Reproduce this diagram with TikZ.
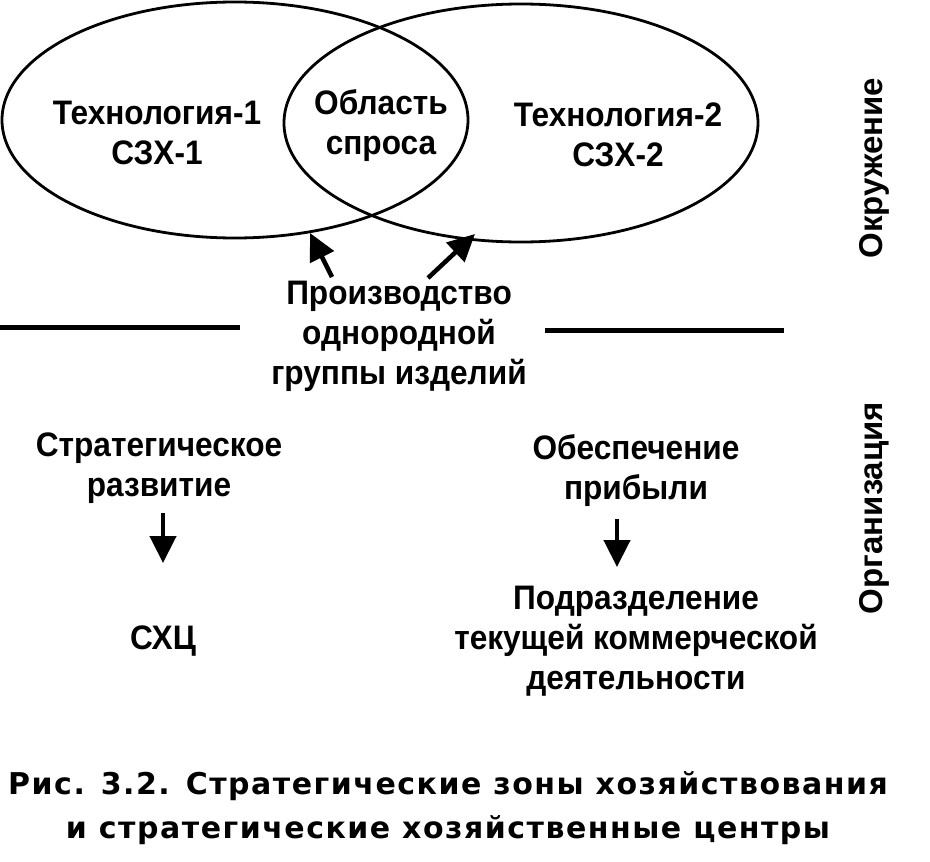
\documentclass[tikz,border=0pt]{standalone}
\usepackage{fontspec}
\setmainfont{Liberation Sans Bold}[FakeStretch=0.93]
\newfontfamily\sidefont{Liberation Sans Bold}
\newfontfamily\capfont{DejaVu Sans Bold}[LetterSpace=5]
\usetikzlibrary{arrows.meta}
\begin{document}
\begin{tikzpicture}[x=1pt,y=-1pt,
    lbl/.style={font=\fontsize{34}{40}\selectfont,align=center,inner sep=0pt,anchor=north},
    side/.style={font=\sidefont\fontsize{33}{40}\selectfont,inner sep=0pt,anchor=base,rotate=90},
    capt/.style={font=\capfont\fontsize{30}{44}\selectfont,align=center,inner sep=0pt,anchor=north},
    arr/.style={line width=4.5pt,-{Triangle[length=27pt,width=26pt]}},
    oval/.style={line width=2.8pt},
    bar/.style={line width=5pt}]
    \useasboundingbox (0,0) rectangle (930,862);
    \draw[oval] (235,120) ellipse [x radius=233, y radius=118];
    \draw[oval] (521,123) ellipse [x radius=237, y radius=119];
    \node[lbl] (tech1) at (157,101) {Технология-1\\СЗХ-1};
    \node[lbl] (demand) at (381,89) {Область\\спроса};
    \node[lbl] (tech2) at (618,103) {Технология-2\\СЗХ-2};
    \node[side] (env) at (882,168) {Окружение};
    \node[lbl] (prod) at (399,281) {Производство\\однородной\\группы изделий};
    \coordinate (tipL) at (310,233);
    \coordinate (tipR) at (475,234);
    \draw[arr] ([xshift=-67pt,yshift=4pt]prod.north) -- (tipL);
    \draw[arr] ([xshift=29pt,yshift=3pt]prod.north) -- (tipR);
    \draw[bar] (0,327) -- (240,327);
    \draw[bar] (545,330) -- (784,330);
    \node[side] (org) at (882,508) {Организация};
    \node[lbl] (strat) at (159,433) {Стратегическое\\развитие};
    \node[lbl] (shc) at (163,626) {СХЦ};
    \node[lbl] (profit) at (636,434) {Обеспечение\\прибыли};
    \node[lbl] (unit) at (636,586) {Подразделение\\текущей коммерческой\\деятельности};
    \draw[arr] ([xshift=4pt,yshift=-9pt]strat.south) -- ([yshift=63pt]shc.north);
    \draw[arr] ([xshift=-19pt,yshift=-13pt]profit.south) -- ([xshift=-19pt,yshift=19pt]unit.north);
    \node[capt] (fig) at (448,771) {Рис. 3.2. Стратегические зоны хозяйствования\\и стратегические хозяйственные центры};
\end{tikzpicture}
\end{document}
